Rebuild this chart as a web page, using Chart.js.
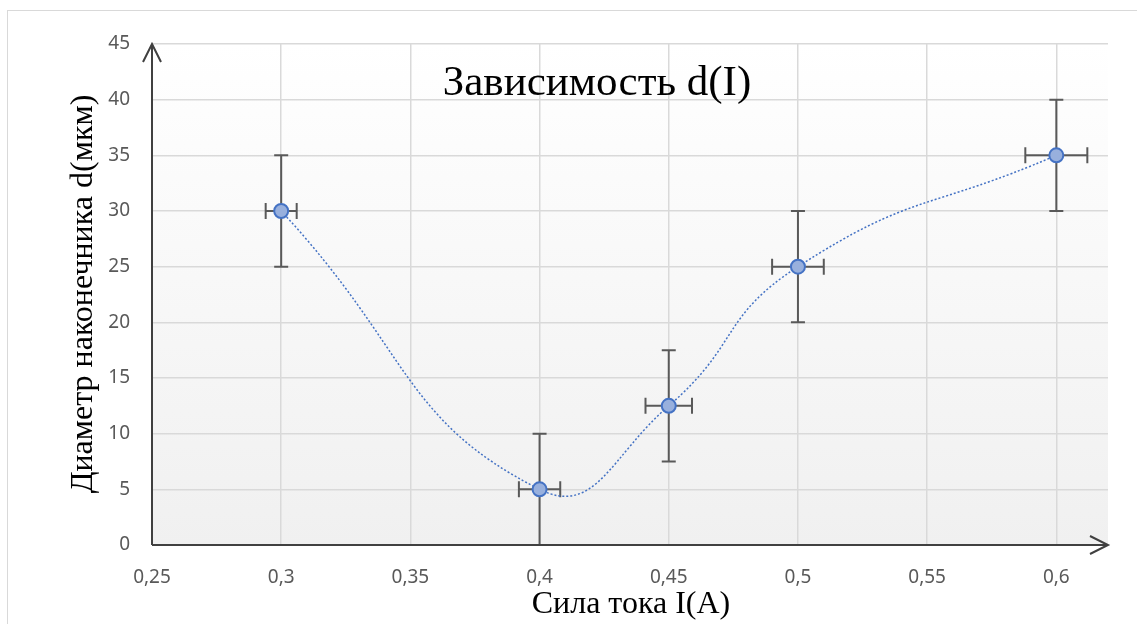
<!DOCTYPE html>
<html>
<head>
<meta charset="utf-8">
<script src="https://cdn.jsdelivr.net/npm/chart.js@4"></script>
<style>
  html, body { margin: 0; padding: 0; background: #fff; }
  #wrap { position: relative; width: 1137px; height: 624px; overflow: hidden; }
  #frame { position: absolute; left: 7px; top: 10px; width: 1140px; height: 630px; border: 1px solid #d9d9d9; box-sizing: border-box; }
  canvas { position: absolute; left: 0; top: 0; }
</style>
</head>
<body>
<div id="wrap">
  <div id="frame"></div>
  <canvas id="grafico" width="1137" height="624"></canvas>
</div>
<script>
// datos: сила тока (A) и диаметр (мкм)
const currents = [0.3, 0.4, 0.45, 0.5, 0.6];
const diameters = [30, 5, 12.5, 25, 35];
const yErrors = [5, 5, 5, 5, 5];
const xErrors = [0.006, 0.008, 0.009, 0.01, 0.012]; // 2% of current
const chartTitle = 'Зависимость d(I)';
const xTitle = 'Сила тока I(A)';
const yTitle = 'Диаметр наконечника d(мкм)';

const points = currents.map((c, i) => ({ x: c, y: diameters[i] }));

function fmt(v) {
    return String(+v.toFixed(2)).replace('.', ',');
}

// fondo degradado + barras de error
const extras = {
    id: 'extras',
    beforeDraw(chart) {
        const { ctx, chartArea: a } = chart;
        const g = ctx.createLinearGradient(0, a.top, 0, a.bottom);
        g.addColorStop(0, '#ffffff');
        g.addColorStop(1, '#f0f0f0');
        ctx.save();
        ctx.fillStyle = g;
        ctx.fillRect(a.left, a.top, a.right - a.left, a.bottom - a.top);
        ctx.restore();
    },
    beforeDatasetsDraw(chart) {
        const { ctx, scales: { x, y } } = chart;
        ctx.save();
        ctx.strokeStyle = '#595959';
        ctx.lineWidth = 2;
        currents.forEach((c, i) => {
            const px = x.getPixelForValue(c);
            const py = y.getPixelForValue(diameters[i]);
            const y1 = y.getPixelForValue(diameters[i] + yErrors[i]);
            const y2 = y.getPixelForValue(diameters[i] - yErrors[i]);
            const x1 = x.getPixelForValue(c - xErrors[i]);
            const x2 = x.getPixelForValue(c + xErrors[i]);
            ctx.beginPath();
            ctx.moveTo(px, y1); ctx.lineTo(px, y2);
            ctx.moveTo(px - 7, y1); ctx.lineTo(px + 7, y1);
            ctx.moveTo(px - 7, y2); ctx.lineTo(px + 7, y2);
            ctx.moveTo(x1, py); ctx.lineTo(x2, py);
            ctx.moveTo(x1, py - 8); ctx.lineTo(x1, py + 8);
            ctx.moveTo(x2, py - 8); ctx.lineTo(x2, py + 8);
            ctx.stroke();
        });
        ctx.restore();
    },
    afterDraw(chart) {
        const { ctx, chartArea: a } = chart;
        ctx.save();
        // ejes con flechas
        ctx.strokeStyle = '#404040';
        ctx.lineWidth = 2;
        ctx.beginPath();
        ctx.moveTo(a.left, a.bottom); ctx.lineTo(a.left, a.top);
        ctx.moveTo(a.left - 9, a.top + 18); ctx.lineTo(a.left, a.top); ctx.lineTo(a.left + 9, a.top + 18);
        ctx.moveTo(a.left, a.bottom); ctx.lineTo(a.right, a.bottom);
        ctx.moveTo(a.right - 18, a.bottom - 9); ctx.lineTo(a.right, a.bottom); ctx.lineTo(a.right - 18, a.bottom + 9);
        ctx.stroke();
        // textos
        ctx.fillStyle = '#000';
        ctx.textAlign = 'center';
        ctx.textBaseline = 'middle';
        ctx.font = '43px "Liberation Serif"';
        ctx.fillText(chartTitle, 597, 84);
        ctx.font = '32px "Liberation Serif"';
        ctx.fillText(xTitle, 631, 605);
        ctx.translate(84, 294);
        ctx.rotate(-Math.PI / 2);
        ctx.fillText(yTitle, 0, 0);
        ctx.restore();
    }
};

const ctx = document.getElementById('grafico');

new Chart(ctx, {
    type: 'scatter',
    data: {
        datasets: [{
            data: points,
            showLine: true,
            tension: 0.5,
            borderColor: '#4472c4',
            borderWidth: 1.5,
            borderDash: [2, 2],
            pointRadius: 7,
            pointBackgroundColor: '#98b0dd',
            pointBorderColor: '#4472c4',
            pointBorderWidth: 2
        }]
    },
    options: {
        responsive: false,
        animation: false,
        layout: { padding: { left: 0, top: 44, right: 29, bottom: 0 } },
        plugins: { legend: { display: false }, tooltip: { enabled: false } },
        scales: {
            x: {
                type: 'linear',
                min: 0.25,
                max: 0.62,
                afterFit: s => { s.height = 79; },
                border: { display: false },
                grid: { color: '#d9d9d9', lineWidth: 1.5, drawTicks: false },
                ticks: {
                    stepSize: 0.05,
                    includeBounds: false,
                    padding: 21,
                    color: '#595959',
                    font: { family: 'Noto Sans', size: 19 },
                    callback: v => fmt(v)
                }
            },
            y: {
                min: 0,
                max: 45,
                afterFit: s => { s.width = 152; },
                border: { display: false },
                grid: { color: '#d9d9d9', lineWidth: 1.5, drawTicks: false },
                ticks: {
                    stepSize: 5,
                    padding: 22,
                    color: '#595959',
                    font: { family: 'Noto Sans', size: 19 },
                    callback: v => fmt(v)
                }
            }
        }
    },
    plugins: [extras]
});
</script>
</body>
</html>
